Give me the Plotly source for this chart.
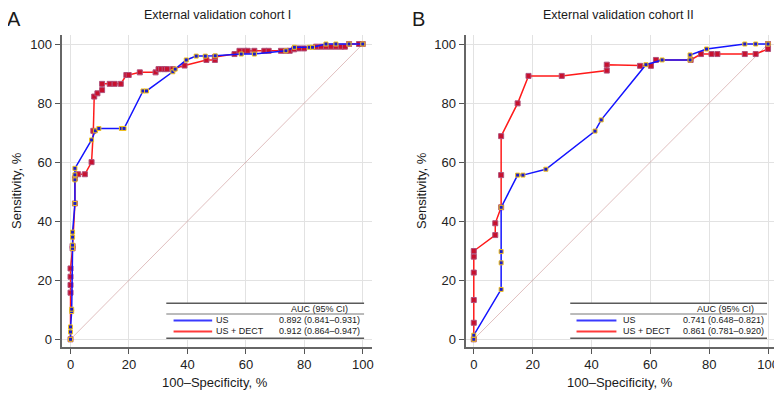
import plotly.graph_objects as go

# ---------------- data ----------------
# Panel A: External validation cohort I
a_us_x = [0, 0, 0, 0.4, 0.4, 0.7, 0.7, 0.7, 0.7, 1.5, 1.5, 1.5, 1.5, 7.2, 8.5, 9.7, 17.4, 18.3,
          24.8, 26.0, 35.0, 35.8, 39.6, 43.0, 46.1, 49.5, 58.4, 62.9, 73.7, 76.6, 81.7, 82.8,
          87.4, 90.8, 95.3, 100]
a_us_y = [0, 2.5, 4.2, 9.4, 10.2, 30.8, 31.9, 34.6, 36.3, 46.0, 54.0, 55.7, 57.9, 67.5, 70.6, 71.4, 71.4, 71.4,
          84.1, 84.1, 90.6, 91.5, 94.6, 95.9, 95.9, 96.0, 96.6, 96.6, 97.7, 98.9, 98.9, 98.9,
          100, 100, 100, 100]
a_dect_x = [0, 0, 0, 0, 0, 0.7, 0.7, 1.5, 1.5, 2.6, 4.9, 7.2, 7.8, 8.1, 9.2, 10.8, 10.8, 13.4, 15.1, 17.2,
            19.1, 19.9, 23.7, 29.1, 30.1, 31.0, 32.2, 33.0, 35.0, 39.0, 46.5, 49.4, 49.4, 56.1, 57.8,
            59.5, 60.6, 62.9, 66.3, 67.8, 72.0, 73.7, 75.0, 76.5, 78.2, 79.9, 84.0, 85.7, 87.4, 89.1,
            90.8, 92.5, 93.9, 95.3, 98.7, 100]
a_dect_y = [0, 15.8, 18.4, 21.2, 24.0, 30.8, 31.6, 46.0, 54.5, 55.9, 55.9, 60.0, 70.6, 82.2, 83.3, 84.4, 86.5, 86.5, 86.5, 86.5,
            89.5, 89.5, 90.4, 90.4, 91.5, 91.5, 91.5, 91.5, 91.5, 92.7, 94.6, 94.6, 95.6, 96.6, 97.7,
            97.7, 97.7, 97.7, 97.7, 97.7, 97.7, 97.7, 97.7, 98.2, 98.5, 98.5, 99.1, 99.1, 99.1, 99.1,
            99.1, 99.1, 99.1, 100, 100, 100]

# Panel B: External validation cohort II
b_us_x = [0, 0, 9.3, 9.3, 9.3, 9.3, 14.9, 16.7, 24.5, 41.2, 43.3, 58.5, 64.0, 73.5, 73.5, 79.1,
          92.1, 95.8, 100]
b_us_y = [0, 1.4, 16.9, 25.9, 29.7, 44.7, 55.6, 55.6, 57.6, 70.5, 74.3, 93.0, 94.6, 94.6, 96.3, 98.3,
          100, 100, 100]
b_dect_x = [0, 0, 0, 0, 0, 0, 7.3, 7.3, 9.3, 9.3, 9.3, 14.9, 18.6, 29.9, 45.2, 45.2, 56.5, 60.2,
            61.9, 73.7, 77.2, 80.8, 82.8, 92.1, 95.8, 100, 100]
b_dect_y = [0, 5.6, 13.3, 22.6, 28.0, 29.9, 35.3, 39.3, 44.7, 55.6, 68.8, 79.9, 89.2, 89.2, 91.0, 93.0, 92.6, 92.6,
            94.6, 94.6, 96.6, 96.6, 96.6, 96.6, 96.6, 98.3, 100]

ticks = [0, 20, 40, 60, 80, 100]
panel_titles = ["External validation cohort I", "External validation cohort II"]
panel_letters = ["A", "B"]
series_names = ["US", "US + DECT"]
auc_a = ["0.892 (0.841–0.931)", "0.912 (0.864–0.947)"]
auc_b = ["0.741 (0.648–0.821)", "0.861 (0.781–0.920)"]

# ---------------- styling ----------------
OFF = 8                          # page body margin in the browser
W, H = 782 - OFF, 398 - 2 * OFF  # figure size (figure sits at OFF, OFF on the page)
FONT = "Liberation Sans, Arial, Helvetica, sans-serif"
BLUE = "#1414ff"
RED = "#ff1a1a"


def P(px, py):
    """screen pixel (reference coords) -> paper coords"""
    return (px - OFF) / W, 1 - (py - OFF) / H


fig = go.Figure()

panels = [
    dict(xa="x", ya="y", us=(a_us_x, a_us_y), dect=(a_dect_x, a_dect_y)),
    dict(xa="x2", ya="y2", us=(b_us_x, b_us_y), dect=(b_dect_x, b_dect_y)),
]
for p in panels:
    fig.add_trace(go.Scatter(x=[0, 100], y=[0, 100], mode="lines", xaxis=p["xa"], yaxis=p["ya"],
                             line=dict(color="rgba(200,140,140,0.7)", width=0.8), showlegend=False,
                             hoverinfo="skip"))
    fig.add_trace(go.Scatter(x=p["dect"][0], y=p["dect"][1], mode="lines+markers", xaxis=p["xa"], yaxis=p["ya"],
                             name=series_names[1], showlegend=False,
                             line=dict(color=RED, width=1.5),
                             marker=dict(symbol="square", size=5, color="#c8102e",
                                         line=dict(color="#b0507a", width=1))))
    fig.add_trace(go.Scatter(x=p["us"][0], y=p["us"][1], mode="lines+markers", xaxis=p["xa"], yaxis=p["ya"],
                             name=series_names[0], showlegend=False,
                             line=dict(color=BLUE, width=1.5),
                             marker=dict(symbol="square", size=4, color="#1a1acc",
                                         line=dict(color="#f2c21b", width=1))))

axis_common = dict(
    tickvals=ticks, ticks="outside", ticklen=5, tickwidth=1, tickcolor="#555",
    showline=True, linecolor="#666", linewidth=2, mirror=False,
    showgrid=True, gridcolor="#e2e2e2", gridwidth=1, zeroline=False,
    tickfont=dict(family=FONT, size=13, color="#222"), ticklabeloverflow="allow",
)
yb = P(0, 346.7)[1]
yt = P(0, 35)[1]
fig.update_layout(
    width=W, height=H, margin=dict(l=0, r=0, t=0, b=0),
    paper_bgcolor="white", plot_bgcolor="white",
    font=dict(family=FONT, size=12, color="#222"),
    xaxis=dict(domain=[P(61.7, 0)[0], P(373, 0)[0]], range=[-3.07, 103.17], anchor="y", **axis_common),
    yaxis=dict(domain=[yb, yt], range=[-2.5, 103.05], anchor="x", **axis_common),
    xaxis2=dict(domain=[P(466.7, 0)[0], P(779, 0)[0]], range=[-2.81, 103.05], anchor="y2", **axis_common),
    yaxis2=dict(domain=[yb, yt], range=[-2.5, 103.05], anchor="x2", **axis_common),
)

annotations = []
shapes = []


def txt(px, py, text, size, anchor="center", angle=0):
    x, y = P(px, py)
    annotations.append(dict(x=x, y=y, xref="paper", yref="paper", text=text, showarrow=False,
                            xanchor=anchor, yanchor="middle", textangle=angle, borderpad=0,
                            font=dict(family=FONT, size=size, color="#1a1a1a")))


def hline(x0, x1, py, color, width):
    a = P(x0, py)
    b = P(x1, py)
    shapes.append(dict(type="line", xref="paper", yref="paper", x0=a[0], x1=b[0], y0=a[1], y1=b[1],
                       line=dict(color=color, width=width), layer="above"))


# panel titles, letters, axis titles
txt(218, 15.5, panel_titles[0], 12.5)
txt(620, 15.5, panel_titles[1], 12.5)
txt(6, 18.5, panel_letters[0], 20, anchor="left")
txt(412, 18.5, panel_letters[1], 20, anchor="left")
txt(216, 382, "100–Specificity, %", 13)
txt(622, 382, "100–Specificity, %", 13)
txt(16, 190, "Sensitivity, %", 13, angle=-90)
txt(422, 190, "Sensitivity, %", 13, angle=-90)

# AUC tables
tables = [
    dict(l=166.7, r=365, s0=174, s1=212.7, lab=216, valr=361.7, hdr=320, auc=auc_a),
    dict(l=571.7, r=769, s0=578, s1=618, lab=624, valr=766.7, hdr=727, auc=auc_b),
]
for t in tables:
    a = P(t["l"], 303.3)
    b = P(t["r"], 338.3)
    shapes.append(dict(type="rect", xref="paper", yref="paper", x0=a[0], x1=b[0], y0=b[1], y1=a[1],
                       fillcolor="white", line=dict(width=0), layer="above"))
    hline(t["l"], t["r"], 303.3, "#5a5a5a", 1.6)
    hline(t["l"], t["r"], 314, "#777", 1)
    hline(t["l"], t["r"], 338.3, "#5a5a5a", 1.6)
    hline(t["s0"], t["s1"], 320.5, "#3a3aff", 2)
    hline(t["s0"], t["s1"], 331.5, "#ff3a3a", 2)
    txt(t["hdr"], 309, "AUC (95% CI)", 9)
    txt(t["lab"], 320, series_names[0], 9, anchor="left")
    txt(t["lab"], 331, series_names[1], 9, anchor="left")
    txt(t["valr"], 320, t["auc"][0], 9, anchor="right")
    txt(t["valr"], 331, t["auc"][1], 9, anchor="right")

fig.update_layout(annotations=annotations, shapes=shapes)
fig.write_html("out.html")
